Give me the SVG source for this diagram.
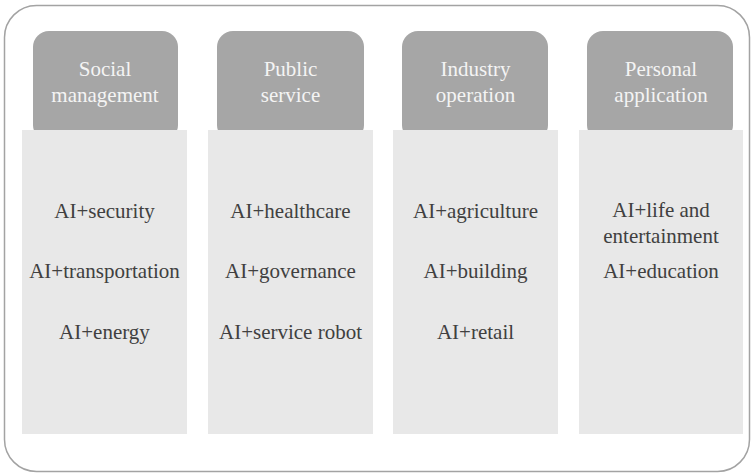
<svg xmlns="http://www.w3.org/2000/svg" width="753" height="473" viewBox="0 0 753 473">
<style>
.frame{fill:#ffffff;stroke:#a3a3a3;stroke-width:1.5}
.hdr{fill:#a6a6a6}
.body{fill:#e8e8e8}
.ht{font-size:21px;fill:#f4f4f4;text-anchor:middle}
.bt{font-size:21px;fill:#404040;text-anchor:middle}
</style>
<rect class="frame" x="4.5" y="5.5" width="745" height="466" rx="32" ry="32"/>
<g font-family="Liberation Serif, Tinos, Times New Roman, DejaVu Serif, serif">
<g id="col-social">
<rect class="hdr" x="33" y="31" width="145" height="110" rx="16" ry="16"/>
<rect class="body" x="22" y="130" width="165" height="304"/>
<text class="ht" x="105" y="76">Social</text>
<text class="ht" x="105" y="102">management</text>
<text class="bt" x="104.5" y="218">AI+security</text>
<text class="bt" x="104.5" y="278">AI+transportation</text>
<text class="bt" x="104.5" y="339">AI+energy</text>
</g>
<g id="col-public">
<rect class="hdr" x="217" y="31" width="147" height="110" rx="16" ry="16"/>
<rect class="body" x="208" y="130" width="165" height="304"/>
<text class="ht" x="290.5" y="76">Public</text>
<text class="ht" x="290.5" y="102">service</text>
<text class="bt" x="290.5" y="218">AI+healthcare</text>
<text class="bt" x="290.5" y="278">AI+governance</text>
<text class="bt" x="290.5" y="339">AI+service robot</text>
</g>
<g id="col-industry">
<rect class="hdr" x="402" y="31" width="146" height="110" rx="16" ry="16"/>
<rect class="body" x="393" y="130" width="165" height="304"/>
<text class="ht" x="475.5" y="76">Industry</text>
<text class="ht" x="475.5" y="102">operation</text>
<text class="bt" x="475.5" y="218">AI+agriculture</text>
<text class="bt" x="475.5" y="278">AI+building</text>
<text class="bt" x="475.5" y="339">AI+retail</text>
</g>
<g id="col-personal">
<rect class="hdr" x="587" y="31" width="146" height="110" rx="16" ry="16"/>
<rect class="body" x="579" y="130" width="164" height="304"/>
<text class="ht" x="661" y="76">Personal</text>
<text class="ht" x="661" y="102">application</text>
<text class="bt" x="661" y="217">AI+life and</text>
<text class="bt" x="661" y="243">entertainment</text>
<text class="bt" x="661" y="278">AI+education</text>
</g>
</g>
<g id="connectors"></g>
</svg>
